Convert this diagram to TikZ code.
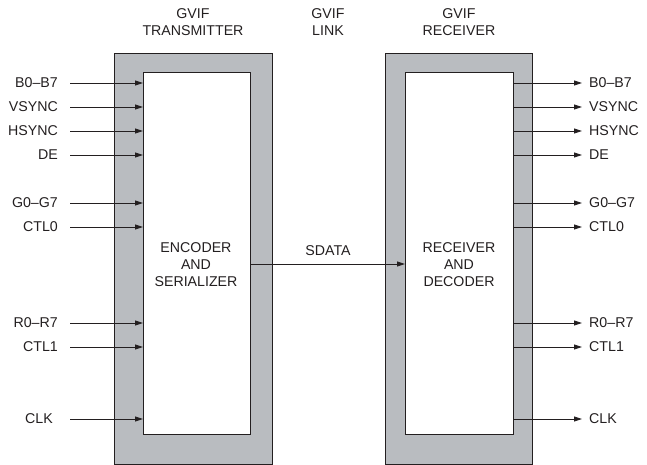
\documentclass[tikz,border=0pt]{standalone}
\usepackage{fontspec}
\setmainfont{Liberation Sans}
\usetikzlibrary{arrows.meta}
\definecolor{boxgray}{HTML}{B9BCC0}
\definecolor{ink}{HTML}{231F20}
\begin{document}
\begin{tikzpicture}[x=1pt,y=-1pt,
  every node/.style={font=\fontsize{14.2}{17}\selectfont, text=ink, inner sep=0pt},
  outerbox/.style={draw=ink, line width=0.9pt, fill=boxgray},
  innerbox/.style={draw=ink, line width=0.9pt, fill=white},
  sig/.style={draw=ink, line width=0.9pt, -{Triangle[length=8pt,width=5pt]}},
  lbl/.style={align=center}]
\useasboundingbox (0,0) rectangle (647,465);
% boxes
\node[outerbox, minimum width=158pt, minimum height=411pt, anchor=north west] (txo) at (114,53) {};
\node[innerbox, minimum width=107pt, minimum height=362pt, anchor=north west] (txi) at (143,72) {};
\node[outerbox, minimum width=147pt, minimum height=411pt, anchor=north west] (rxo) at (385,53) {};
\node[innerbox, minimum width=108pt, minimum height=362pt, anchor=north west] (rxi) at (405,72) {};
% titles
\node[lbl] (t1) at (193,22) {GVIF\\TRANSMITTER};
\node[lbl] (t2) at (328,22) {GVIF\\LINK};
\node[lbl] (t3) at (459,22) {GVIF\\RECEIVER};
\node[lbl] (enc) at (196,265) {ENCODER\\AND\\SERIALIZER};
\node[lbl] (dec) at (459,265) {RECEIVER\\AND\\DECODER};
% sdata
\coordinate (s1) at (250,264);
\coordinate (s2) at (405,264);
\draw[sig] (s1) -- (s2);
\node (sd) at (328,251) {SDATA};
% signals
\foreach \n/\t/\y/\e in {a/B0--B7/83/58, b/VSYNC/107/58, c/HSYNC/131/58, d/DE/155/58, e/G0--G7/203/58, f/CTL0/227/58, g/R0--R7/323/58, h/CTL1/347/58, i/CLK/419/53}{
  \node[anchor=east] (L\n) at (\e,\y) {\t};
  \coordinate (La\n) at (70,\y);
  \coordinate (Lb\n) at (143,\y);
  \draw[sig] (La\n) -- (Lb\n);
  \coordinate (Ra\n) at (513,\y);
  \coordinate (Rb\n) at (582,\y);
  \draw[sig] (Ra\n) -- (Rb\n);
  \node[anchor=west] (R\n) at (589,\y) {\t};
}
\end{tikzpicture}
\end{document}
